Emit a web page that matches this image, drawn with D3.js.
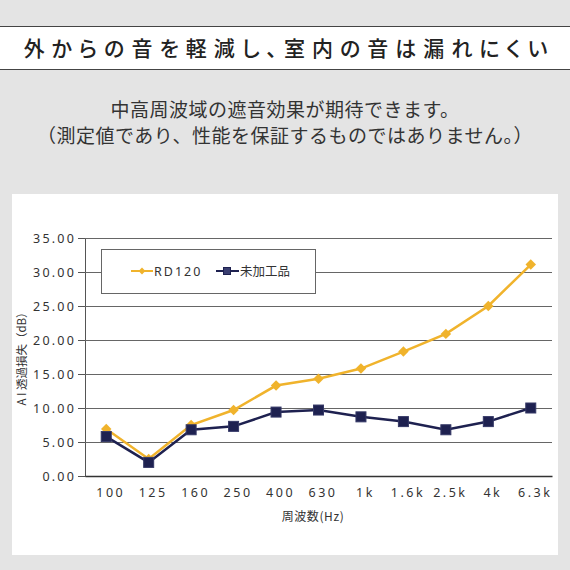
<!DOCTYPE html>
<html>
<head>
<meta charset="utf-8">
<script src="https://cdn.jsdelivr.net/npm/d3@7"></script>
<style>
  html, body { margin: 0; padding: 0; background: #e4e4e4; }
  svg { display: block; font-family: "Noto Sans CJK JP", "Noto Sans", sans-serif; }
  .palt { font-feature-settings: "palt"; }
</style>
</head>
<body>
<div id="chart"></div>
<script>
var frequencies = ["100", "125", "160", "250", "400", "630", "1k", "1.6k", "2.5k", "4k", "6.3k"];
var rd120 = [6.9, 2.5, 7.5, 9.7, 13.3, 14.3, 15.8, 18.3, 20.9, 25.0, 31.1];
var untreated = [5.8, 2.0, 6.8, 7.3, 9.4, 9.7, 8.7, 8.0, 6.8, 8.0, 10.0];
var yTicks = [0, 5, 10, 15, 20, 25, 30, 35];
var seriesNames = ["RD120", "未加工品"];

var title = "外からの音を軽減し、室内の音は漏れにくい";
var subtitle = ["中高周波域の遮音効果が期待できます。", "（測定値であり、性能を保証するものではありません。）"];
var yTitle = "A I 透過損失（dB）";
var xTitle = "周波数(Hz)";

var W = 570, H = 570;
var gold = "#f0b32c", navy = "#1e2150";

var svg = d3.select("#chart").append("svg")
  .attr("width", W)
  .attr("height", H);

svg.append("rect").attr("width", W).attr("height", H).attr("fill", "#e4e4e4");

// title band
svg.append("rect").attr("x", 0).attr("y", 26).attr("width", W).attr("height", 43).attr("fill", "#fff");
svg.append("line").attr("x1", 0).attr("x2", W).attr("y1", 26.5).attr("y2", 26.5).attr("stroke", "#444").attr("stroke-width", 1.2);
svg.append("line").attr("x1", 0).attr("x2", W).attr("y1", 69.5).attr("y2", 69.5).attr("stroke", "#444").attr("stroke-width", 1.2);
svg.append("text")
  .attr("class", "palt")
  .attr("x", 289).attr("y", 56)
  .attr("text-anchor", "middle")
  .attr("font-size", 21)
  .attr("font-weight", 500)
  .attr("letter-spacing", 7)
  .attr("fill", "#222")
  .text(title);

svg.selectAll(".sub").data(subtitle).enter().append("text")
  .attr("class", "sub")
  .attr("x", 285)
  .attr("y", function(d, i) { return 117 + i * 26; })
  .attr("text-anchor", "middle")
  .attr("font-size", 19)
  .attr("font-weight", 400)
  .attr("letter-spacing", 0.5)
  .attr("fill", "#333")
  .text(function(d) { return d; });

// chart panel
svg.append("rect").attr("x", 12).attr("y", 194).attr("width", 546).attr("height", 361).attr("fill", "#fff");

var margin = { left: 85, right: 552, top: 238, bottom: 476 };

var x = d3.scalePoint()
  .domain(frequencies)
  .range([margin.left, margin.right])
  .padding(0.5);

var y = d3.scaleLinear()
  .domain([0, 35])
  .range([margin.bottom, margin.top]);

// grid + y axis
var yAxis = d3.axisLeft(y)
  .tickValues(yTicks)
  .tickSize(7)
  .tickFormat(d3.format(".2f"));

var gy = svg.append("g")
  .attr("transform", "translate(" + margin.left + ",0)")
  .call(yAxis);
gy.select(".domain").attr("stroke", "#555");
gy.selectAll(".tick line").attr("stroke", "#555");
gy.selectAll(".tick text")
  .attr("x", -9)
  .attr("font-size", 12.5)
  .attr("letter-spacing", 2.2)
  .attr("fill", "#333")
  .attr("font-family", "'Noto Sans', sans-serif");

svg.append("g").selectAll("line").data(yTicks).enter().append("line")
  .attr("x1", margin.left)
  .attr("x2", margin.right)
  .attr("y1", function(d) { return Math.round(y(d)) + 0.5; })
  .attr("y2", function(d) { return Math.round(y(d)) + 0.5; })
  .attr("stroke", "#666")
  .attr("stroke-width", 1);

// x axis
var xAxis = d3.axisBottom(x).tickSize(0).tickPadding(12);
var gx = svg.append("g")
  .attr("transform", "translate(0," + margin.bottom + ")")
  .call(xAxis);
gx.select(".domain").attr("stroke", "#333").attr("stroke-width", 1.3);
gx.selectAll(".tick text")
  .attr("dx", 4)
  .attr("font-size", 12.5)
  .attr("letter-spacing", 2.5)
  .attr("fill", "#333")
  .attr("font-family", "'Noto Sans', sans-serif");

svg.append("text")
  .attr("x", 313).attr("y", 521)
  .attr("text-anchor", "middle")
  .attr("font-size", 12)
  .attr("letter-spacing", 0.6)
  .attr("fill", "#333")
  .text(xTitle);

svg.append("text")
  .attr("transform", "translate(26,356) rotate(-90)")
  .attr("text-anchor", "middle")
  .attr("font-size", 11.5)
  .attr("fill", "#333")
  .text(yTitle);

// legend
var lg = svg.append("g");
lg.append("rect")
  .attr("x", 101.5).attr("y", 249.5).attr("width", 214).attr("height", 44)
  .attr("fill", "#fff").attr("stroke", "#666");

var line = d3.line()
  .x(function(d, i) { return x(frequencies[i]); })
  .y(function(d) { return y(d); });

var diamond = d3.symbol().type(d3.symbolDiamond2).size(70);

// RD120
svg.append("path").datum(rd120)
  .attr("d", line)
  .attr("fill", "none")
  .attr("stroke", gold)
  .attr("stroke-width", 2.5);
svg.append("g").selectAll("path").data(rd120).enter().append("path")
  .attr("transform", function(d, i) { return "translate(" + x(frequencies[i]) + "," + y(d) + ")"; })
  .attr("d", diamond)
  .attr("fill", gold);

// untreated
svg.append("path").datum(untreated)
  .attr("d", line)
  .attr("fill", "none")
  .attr("stroke", navy)
  .attr("stroke-width", 2.5);
svg.append("g").selectAll("rect").data(untreated).enter().append("rect")
  .attr("x", function(d, i) { return x(frequencies[i]) - 5; })
  .attr("y", function(d) { return y(d) - 5; })
  .attr("width", 10).attr("height", 10)
  .attr("fill", navy)
  .attr("stroke", "#343866")
  .attr("stroke-width", 1);

// legend entries
lg.append("line").attr("x1", 131).attr("x2", 153).attr("y1", 271).attr("y2", 271).attr("stroke", gold).attr("stroke-width", 2);
lg.append("path").attr("transform", "translate(142,271)").attr("d", d3.symbol().type(d3.symbolDiamond2).size(30)).attr("fill", gold);
lg.append("text").attr("x", 154).attr("y", 275.5).attr("font-size", 12.5).attr("letter-spacing", 2)
  .attr("fill", "#333").attr("font-family", "'Noto Sans', sans-serif").text(seriesNames[0]);

lg.append("line").attr("x1", 216).attr("x2", 239).attr("y1", 271).attr("y2", 271).attr("stroke", navy).attr("stroke-width", 2);
lg.append("rect").attr("x", 223.5).attr("y", 267.5).attr("width", 7).attr("height", 7).attr("fill", "#3a3e70").attr("stroke", navy);
lg.append("text").attr("x", 240).attr("y", 275.5).attr("font-size", 12.5)
  .attr("fill", "#333").text(seriesNames[1]);
</script>
</body>
</html>
